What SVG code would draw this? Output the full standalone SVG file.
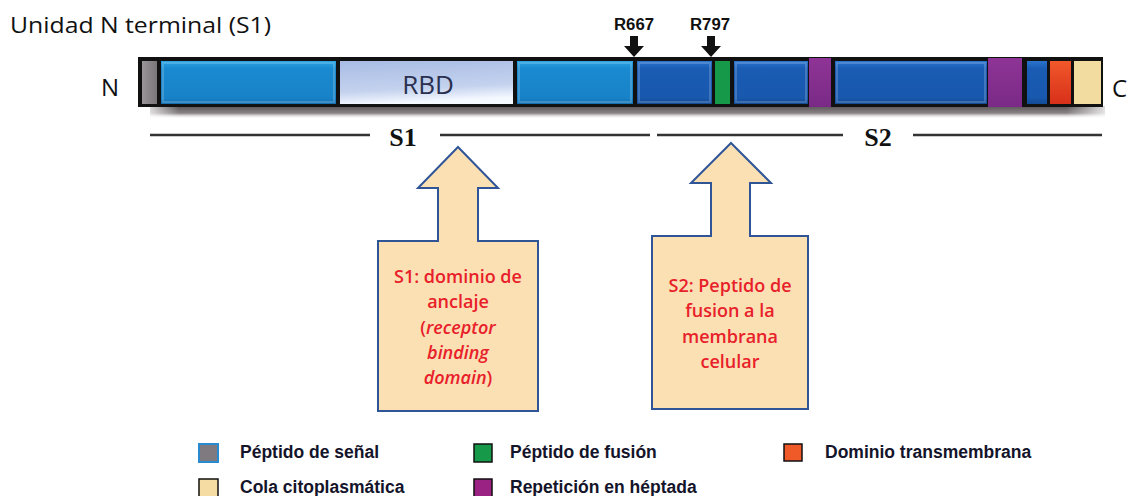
<svg xmlns="http://www.w3.org/2000/svg" width="1134" height="496" viewBox="0 0 1134 496">
<defs>
<linearGradient id="gBlue" x1="0" y1="0" x2="0" y2="1"><stop offset="0" stop-color="#2aa4e4"/><stop offset="0.18" stop-color="#1a8ad0"/><stop offset="0.85" stop-color="#1882c8"/><stop offset="1" stop-color="#1570b0"/></linearGradient>
<linearGradient id="gDark" x1="0" y1="0" x2="0" y2="1"><stop offset="0" stop-color="#2a74cc"/><stop offset="0.18" stop-color="#1a5cb4"/><stop offset="0.85" stop-color="#1858ad"/><stop offset="1" stop-color="#134a95"/></linearGradient>
<linearGradient id="gRBD" x1="0" y1="0" x2="0.2" y2="1"><stop offset="0" stop-color="#a8bce4"/><stop offset="0.7" stop-color="#c4d2ee"/><stop offset="1" stop-color="#f4f8ff"/></linearGradient>
<linearGradient id="gGray" x1="0" y1="0" x2="1" y2="0"><stop offset="0" stop-color="#9a9598"/><stop offset="1" stop-color="#7a7578"/></linearGradient>
<linearGradient id="gPurple" x1="0" y1="0" x2="0" y2="1"><stop offset="0" stop-color="#8e3496"/><stop offset="1" stop-color="#7a2a86"/></linearGradient>
<linearGradient id="gRed" x1="0" y1="0" x2="0" y2="1"><stop offset="0" stop-color="#f0582a"/><stop offset="1" stop-color="#d8301a"/></linearGradient>
<linearGradient id="gShadow" x1="0" y1="0" x2="0" y2="1"><stop offset="0" stop-color="#5a5456"/><stop offset="0.6" stop-color="#8a8486"/><stop offset="1" stop-color="#d8d4d6" stop-opacity="0"/></linearGradient>
<linearGradient id="gShadowH" x1="0" y1="0" x2="1" y2="0"><stop offset="0" stop-color="#fff" stop-opacity="1"/><stop offset="0.04" stop-color="#fff" stop-opacity="0"/><stop offset="0.95" stop-color="#fff" stop-opacity="0"/><stop offset="1" stop-color="#fff" stop-opacity="1"/></linearGradient>
</defs>
<style>
.t{font-family:"Open Sans","Noto Sans",sans-serif;fill:#111}
.lab{font-family:"Liberation Sans",Arial,sans-serif;font-weight:bold;font-size:16px;fill:#111}
.ser{font-family:"Liberation Serif","Times New Roman",serif;font-weight:bold;font-size:26px;fill:#111}
.red{font-family:"Open Sans","Noto Sans",sans-serif;font-size:18px;font-weight:600;fill:#e8202a;text-anchor:middle}
.leg{font-family:"Liberation Sans",Arial,sans-serif;font-weight:bold;font-size:17.5px;fill:#14142a}
.ln{stroke:#333;stroke-width:2.5}
.box{fill:#fbe0b4;stroke:#2f5597;stroke-width:2}
.sq{stroke:#111;stroke-width:1.5}
.bev{fill:none;stroke:#fff;stroke-opacity:0.18;stroke-width:2}
</style>
<text class="t" x="10" y="33" font-size="22" textLength="261" lengthAdjust="spacingAndGlyphs">Unidad N terminal (S1)</text>
<text class="t" x="101" y="96" font-size="24">N</text>
<text class="t" x="1112" y="97" font-size="24">C</text>

<g id="protein">
<rect x="150" y="106" width="955" height="12" fill="url(#gShadow)"/>
<rect x="140" y="106" width="975" height="12" fill="url(#gShadowH)"/>
<rect x="138" y="57" width="965" height="50" fill="#111"/>
<rect x="142" y="61" width="15" height="43" fill="url(#gGray)"/>
<rect x="161" y="61" width="175" height="43" fill="url(#gBlue)"/>
<rect x="163" y="63" width="171" height="39" class="bev"/>
<rect x="340" y="61" width="173" height="43" fill="url(#gRBD)"/>
<text x="428" y="94" font-family="Open Sans,Noto Sans,sans-serif" font-size="26" fill="#2a3050" text-anchor="middle">RBD</text>
<rect x="517" y="61" width="116" height="43" fill="url(#gBlue)"/>
<rect x="519" y="63" width="112" height="39" class="bev"/>
<rect x="637" y="61" width="75" height="43" fill="url(#gDark)"/>
<rect x="639" y="63" width="71" height="39" class="bev"/>
<rect x="715" y="61" width="15" height="43" fill="#17994a"/>
<rect x="734" y="61" width="74" height="43" fill="url(#gDark)"/>
<rect x="736" y="63" width="70" height="39" class="bev"/>
<rect x="809" y="58" width="22" height="49" fill="url(#gPurple)"/>
<rect x="835" y="61" width="152" height="43" fill="url(#gDark)"/>
<rect x="837" y="63" width="148" height="39" class="bev"/>
<rect x="988" y="58" width="34" height="49" fill="url(#gPurple)"/>
<rect x="1027" y="61" width="20" height="43" fill="url(#gDark)"/>
<rect x="1050" y="61" width="21" height="43" fill="url(#gRed)"/>
<rect x="1074" y="61" width="27" height="43" fill="#f2dca0"/>
</g>

<g id="cleavage">
<text class="lab" x="634" y="30" text-anchor="middle" textLength="40" lengthAdjust="spacingAndGlyphs">R667</text>
<polygon points="630,36 638,36 638,46 644,46 634,57 624,46 630,46" fill="#111"/>
<text class="lab" x="710" y="30" text-anchor="middle" textLength="40" lengthAdjust="spacingAndGlyphs">R797</text>
<polygon points="707,36 715,36 715,46 721,46 711,57 701,46 707,46" fill="#111"/>
</g>

<g id="connectors">
<line class="ln" x1="150" y1="135" x2="370" y2="135"/>
<line class="ln" x1="440" y1="135" x2="650" y2="135"/>
<line class="ln" x1="657" y1="135" x2="843" y2="135"/>
<line class="ln" x1="913" y1="135" x2="1102" y2="135"/>
</g>
<text class="ser" x="403" y="146" text-anchor="middle">S1</text>
<text class="ser" x="878" y="146" text-anchor="middle">S2</text>

<g id="s1box">
<polygon class="box" points="458,147 498,188 478,188 478,241 538,241 538,411 378,411 378,241 438,241 438,188 418,188"/>
<text class="red" x="458" y="283">S1: dominio de</text>
<text class="red" x="458" y="308">anclaje</text>
<text class="red" x="458" y="334">(<tspan font-style="italic">receptor</tspan></text>
<text class="red" x="458" y="359" font-style="italic">binding</text>
<text class="red" x="458" y="384"><tspan font-style="italic">domain</tspan>)</text>
</g>

<g id="s2box">
<polygon class="box" points="731,143 771,183 750,183 750,236 808,236 808,409 652,409 652,236 711,236 711,183 691,183"/>
<text class="red" x="730" y="292">S2: Peptido de</text>
<text class="red" x="730" y="317">fusion a la</text>
<text class="red" x="730" y="343">membrana</text>
<text class="red" x="730" y="368">celular</text>
</g>

<g id="legend">
<rect x="199" y="444" width="19" height="18" fill="#7f7a7f" stroke="#2a8ad0" stroke-width="2"/>
<text class="leg" x="240" y="458">Péptido de señal</text>
<rect x="474" y="444" width="18" height="18" class="sq" fill="#17994a"/>
<text class="leg" x="510" y="458">Péptido de fusión</text>
<rect x="784" y="444" width="18" height="17" class="sq" fill="#f05a28"/>
<text class="leg" x="825" y="458">Dominio transmembrana</text>
<rect x="199" y="479" width="19" height="18" class="sq" fill="#f4dca2"/>
<text class="leg" x="240" y="493">Cola citoplasmática</text>
<rect x="474" y="479" width="18" height="18" class="sq" fill="#9a2282"/>
<text class="leg" x="510" y="493">Repetición en héptada</text>
</g>
</svg>
